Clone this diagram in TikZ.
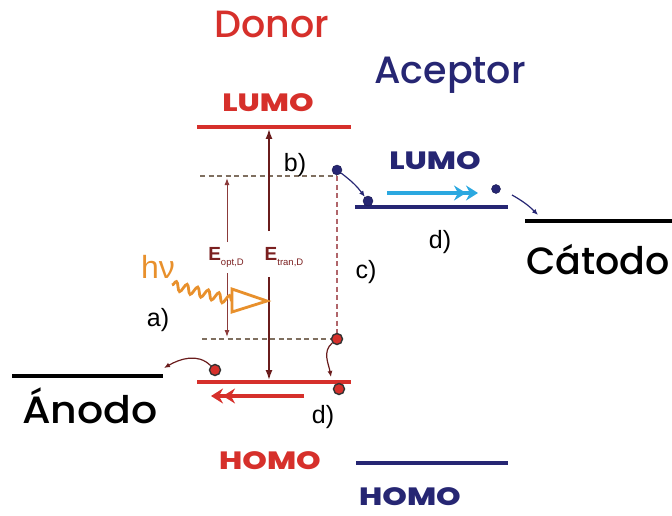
\documentclass[tikz,border=0pt]{standalone}
\usepackage{fontspec}
\setmainfont{Liberation Sans}
\newfontfamily\geo{Poppins Medium}
\newfontfamily\geob{Poppins ExtraBold}
\usetikzlibrary{arrows.meta,decorations.pathmorphing}
\definecolor{dred}{HTML}{D6302B}
\definecolor{navy}{HTML}{262673}
\definecolor{ltblue}{HTML}{2BA8E0}
\definecolor{orng}{HTML}{E8902C}
\definecolor{brn}{HTML}{6A1C1C}
\definecolor{brnl}{HTML}{8B3A3A}
\definecolor{dashh}{HTML}{7F6F60}
\definecolor{dashv}{HTML}{B0656A}
\definecolor{lbl}{HTML}{7B2020}
\begin{document}
\begin{tikzpicture}[x=1pt,y=-1pt,
  title/.style={inner sep=0pt,font=\geo\fontsize{38}{40}\selectfont},
  lvl/.style={inner sep=0pt,font=\geob\fontsize{25}{26}\selectfont},
  lab/.style={inner sep=0pt,font=\fontsize{25}{27}\selectfont},
  elab/.style={inner sep=0pt,font=\fontsize{19}{20}\selectfont,text=lbl},
  ndot/.style={circle,fill=navy,draw=navy!70!black,inner sep=0pt,minimum size=10pt},
  rdot/.style={circle,fill=dred,draw=black!80,line width=1.4pt,inner sep=0pt,minimum size=11pt},
  curv/.style={line width=1.2pt,-{Latex[length=6pt,width=5pt]}},
  dbl/.style={line width=3.5pt,-{Stealth[length=12pt,width=15pt,inset=4pt]Stealth[length=12pt,width=15pt,inset=4pt]}}
]
\useasboundingbox (0,0) rectangle (672,516);

% titles
\node[title,text=dred] (donor) at (272,24) {Donor};
\node[title,text=navy] (aceptor) at (450,75) {Aceptor};
\node[title] (catodo) at (598,260) {Cátodo};
\node[title] (anodo) at (90,406) {\scalebox{1.08}[1]{Ánodo}};

% level labels
\node[lvl,text=dred] (dlumo) at (268,103) {\scalebox{1.25}[1]{LUMO}};
\node[lvl,text=navy] (alumo) at (435,161) {\scalebox{1.25}[1]{LUMO}};
\node[lvl,text=dred] (dhomo) at (270,461) {\scalebox{1.25}[1]{HOMO}};
\node[lvl,text=navy] (ahomo) at (410,497) {\scalebox{1.25}[1]{HOMO}};

% level lines
\coordinate (dLa) at (197,127); \coordinate (dLb) at (351,127);
\coordinate (dHa) at (197,382); \coordinate (dHb) at (351,382);
\coordinate (aLa) at (355,207); \coordinate (aLb) at (508,207);
\coordinate (aHa) at (356,463); \coordinate (aHb) at (508,463);
\coordinate (caa) at (525,221); \coordinate (cab) at (672,221);
\coordinate (ana) at (12,376);  \coordinate (anb) at (163,376);
\draw[dred,line width=4pt] (dLa) -- (dLb);
\draw[dred,line width=3.5pt] (dHa) -- (dHb);
\draw[navy,line width=3.5pt] (aLa) -- (aLb);
\draw[navy,line width=3.5pt] (aHa) -- (aHb);
\draw[black,line width=4pt] (caa) -- (cab);
\draw[black,line width=4pt] (ana) -- (anb);

% dashed guides
\coordinate (gTa) at (200,176); \coordinate (gTb) at (337,176);
\coordinate (gBa) at (202,339); \coordinate (gBb) at (337,339);
\draw[dashh,line width=1.1pt,dash pattern=on 5pt off 3.5pt] (gTa) -- (gTb);
\draw[dashh,line width=1.1pt,dash pattern=on 5pt off 3.5pt] (gBa) -- (gBb);
\draw[dashv,line width=1.3pt,dash pattern=on 5pt off 3.5pt] (gTb) -- (gBb);

% energy arrows
\node[elab] (eopt) at (226,257) {\textbf{E}\raisebox{-0.5ex}{\fontsize{9.5}{9.5}\selectfont opt,D}};
\node[elab] (etran) at (284,257) {\textbf{E}\raisebox{-0.5ex}{\fontsize{9.5}{9.5}\selectfont tran,D}};
\coordinate (eoT) at (227,178); \coordinate (eoB) at (227,337);
\coordinate (eo1) at (227,242); \coordinate (eo2) at (227,273);
\draw[brnl,line width=1pt,-{Latex[length=7pt,width=5pt]}] (eo1) -- (eoT);
\draw[brnl,line width=1pt,-{Latex[length=7pt,width=5pt]}] (eo2) -- (eoB);
\coordinate (etT) at (269,129); \coordinate (etB) at (269,380);
\coordinate (et1) at (269,231); \coordinate (et2) at (269,277);
\draw[brn,line width=1.5pt,-{Latex[length=10pt,width=7pt]}] (et1) -- (etT);
\draw[brn,line width=1.5pt,-{Latex[length=10pt,width=7pt]}] (et2) -- (etB);

% photon
\node[inner sep=0pt,text=orng,font=\fontsize{32}{34}\selectfont] (hv) at (158,267) {hν};
\coordinate (w1) at (172,285); \coordinate (w2) at (233,301);
\draw[orng,line width=2.8pt,decorate,decoration={snake,segment length=11pt,amplitude=4.5pt}] (w1) -- (w2);
\coordinate (t1) at (232,289); \coordinate (t2) at (267,301); \coordinate (t3) at (232,312);
\draw[orng,line width=2.8pt,fill=white,line join=miter] (t1) -- (t2) -- (t3) -- cycle;

% letters
\node[lab] (la) at (158,320) {a)};
\node[lab] (lb) at (295,165) {b)};
\node[lab] (lc) at (366,272) {c)};
\node[lab] (ld1) at (440,242) {d)};
\node[lab] (ld2) at (323,417) {d)};

% acceptor-side charges
\node[ndot] (n1) at (337,170) {};
\node[ndot] (n2) at (368,201) {};
\node[ndot,minimum size=9pt] (n3) at (496,189) {};
\draw[navy,curv] (n1) to[bend left=8] (n2);
\coordinate (c1) at (512,195); \coordinate (c2) at (538,215);
\draw[navy,curv] (c1) to[bend left=8] (c2);
\coordinate (b1) at (387,193); \coordinate (b2) at (478,193);
\draw[ltblue,dbl] (b1) -- (b2);

% donor-side holes
\node[rdot] (r1) at (337,339) {};
\node[rdot] (r2) at (339,389) {};
\node[rdot] (r3) at (215,370) {};
\coordinate (h1) at (331,377);
\draw[brn,curv] (r1) to[out=220,in=100] (h1);
\coordinate (h2) at (164,368);
\draw[brn,curv] (r3.north west) to[out=135,in=30] (h2);
\coordinate (d1) at (304,396); \coordinate (d2) at (211,396);
\draw[dred,dbl] (d1) -- (d2);
\end{tikzpicture}
\end{document}
